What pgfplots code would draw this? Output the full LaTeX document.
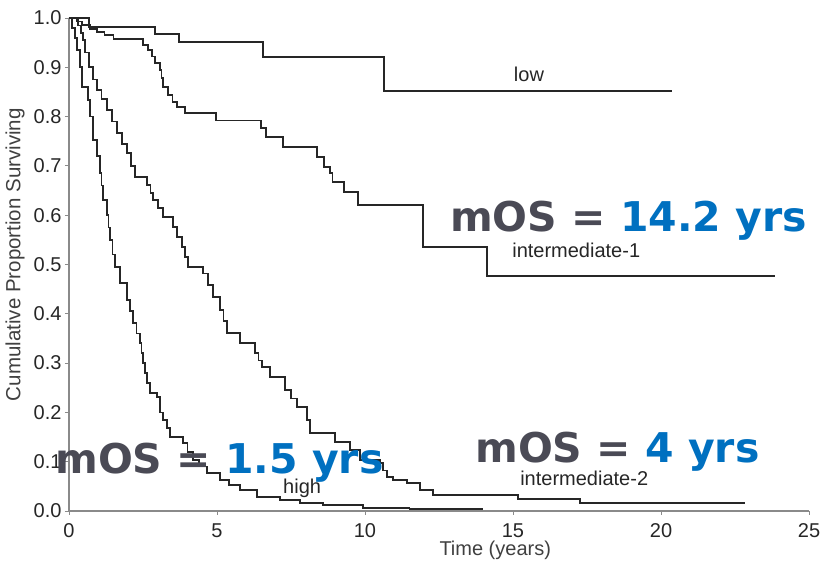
\documentclass[border=0pt]{standalone}
\usepackage{pgfplots}
\pgfplotsset{compat=1.18}
\usepackage{pgfplotstable}
\usepackage{fontspec}
\setmainfont{Liberation Sans}
\newfontfamily\bigfont{DejaVu Sans}
\definecolor{mosgrey}{HTML}{4A4A55}
\definecolor{mosblue}{HTML}{0070C0}
\definecolor{axgrey}{HTML}{8A8A8A}

\pgfplotstableread{
t S
0 1
0.68 0.982
2.9 0.968
3.72 0.952
6.55 0.921
10.64 0.852
20.37 0.852
}\low

\pgfplotstableread{
t S
0 1
0.25 0.993
0.45 0.986
0.7 0.978
0.95 0.972
1.2 0.965
1.5 0.957
2.5 0.945
2.67 0.935
2.8 0.922
2.9 0.909
3.07 0.895
3.12 0.878
3.18 0.86
3.34 0.844
3.5 0.83
3.65 0.819
3.92 0.807
4.97 0.792
6.49 0.777
6.66 0.759
7.23 0.739
8.38 0.718
8.61 0.698
8.82 0.686
8.9 0.667
9.29 0.647
9.76 0.621
11.96 0.536
14.12 0.477
23.85 0.477
}\intone

\pgfplotstableread{
t S
0 1
0.3 0.985
0.4 0.97
0.47 0.955
0.55 0.93
0.68 0.90
0.8 0.875
0.95 0.854
1.1 0.835
1.28 0.813
1.45 0.79
1.62 0.767
1.8 0.745
1.96 0.726
2.1 0.70
2.23 0.678
2.64 0.661
2.75 0.645
2.84 0.631
3.0 0.615
3.18 0.597
3.51 0.576
3.65 0.556
3.82 0.536
3.92 0.515
4.02 0.495
4.53 0.482
4.7 0.458
4.86 0.434
5.1 0.408
5.22 0.385
5.34 0.361
5.78 0.341
6.28 0.32
6.4 0.305
6.52 0.292
6.79 0.272
7.3 0.245
7.5 0.228
7.7 0.211
8.04 0.185
8.14 0.158
8.99 0.14
9.49 0.124
9.83 0.103
10.5 0.097
10.6 0.082
10.74 0.069
10.95 0.063
11.42 0.057
11.86 0.043
12.3 0.032
15.17 0.024
17.26 0.016
22.84 0.016
}\inttwo

\pgfplotstableread{
t S
0 1
0.1 0.98
0.2 0.96
0.27 0.935
0.37 0.9
0.44 0.86
0.64 0.834
0.71 0.8
0.81 0.752
0.95 0.72
1.05 0.686
1.1 0.66
1.15 0.631
1.28 0.6
1.33 0.575
1.39 0.55
1.47 0.52
1.55 0.495
1.72 0.462
1.96 0.428
2.06 0.405
2.16 0.381
2.28 0.36
2.4 0.341
2.45 0.32
2.5 0.3
2.57 0.28
2.64 0.26
2.74 0.239
2.97 0.231
3.07 0.2
3.18 0.185
3.3 0.168
3.41 0.15
3.85 0.138
4.0 0.12
4.19 0.103
4.4 0.09
4.66 0.077
5.1 0.063
5.4 0.053
5.78 0.043
6.35 0.028
7.13 0.022
7.8 0.016
8.58 0.012
9.93 0.006
11.5 0.004
14.0 0.004
}\high

\begin{document}
\begin{tikzpicture}
\begin{axis}[
  scale only axis,
  width=740pt, height=493pt,
  xmin=0, xmax=25, ymin=0, ymax=1,
  axis lines=left,
  axis line style={-, draw=axgrey, line width=1.3pt},
  xtick={0,5,10,15,20,25},
  ytick={0,0.1,0.2,0.3,0.4,0.5,0.6,0.7,0.8,0.9,1.0},
  tick align=outside,
  major tick length=4pt,
  tick style={draw=axgrey, line width=0.8pt},
  /pgf/number format/assume math mode=true,
  tick label style={font=\fontsize{20}{24}\selectfont, text=black!85},
  y tick label style={/pgf/number format/.cd, fixed, fixed zerofill, precision=1},
  x tick label style={yshift=-5pt},
  xlabel={Time (years)},
  ylabel={Cumulative Proportion Surviving},
  label style={font=\fontsize{20}{24}\selectfont, text=black!75},
  xlabel style={at={(axis description cs:0.576,-0.08)}, anchor=center},
  ylabel style={at={(axis description cs:-0.073,0.52)}, anchor=center, font=\fontsize{20.5}{25}\selectfont},
  clip=false,
]
\addplot[const plot, line width=1.7pt, black!85, line join=miter] table[x=t,y=S] {\low};
\addplot[const plot, line width=1.7pt, black!85, line join=miter] table[x=t,y=S] {\intone};
\addplot[const plot, line width=1.7pt, black!85, line join=miter] table[x=t,y=S] {\inttwo};
\addplot[const plot, line width=1.7pt, black!85, line join=miter] table[x=t,y=S] {\high};

\node[anchor=base, font=\fontsize{20}{24}\selectfont, text=black!85, inner sep=0pt] at (axis cs:15.54,0.872) {low};
\node[anchor=base west, font=\fontsize{20}{24}\selectfont, text=black!85, inner sep=0pt] at (axis cs:14.97,0.515) {intermediate-1};
\node[anchor=base west, font=\fontsize{20}{24}\selectfont, text=black!85, inner sep=0pt] at (axis cs:15.24,0.051) {intermediate-2};
\node[anchor=base west, font=\fontsize{20}{24}\selectfont, text=black!85, inner sep=0pt] at (axis cs:7.23,0.036) {high};

\coordinate (bl) at (rel axis cs:0,0);
\coordinate (m1) at (axis cs:12.87,0.566);
\coordinate (m2) at (axis cs:-0.47,0.077);
\coordinate (m3) at (axis cs:13.72,0.099);
\end{axis}
\node[anchor=base west, inner sep=0pt, font=\bigfont\bfseries\fontsize{41}{48}\selectfont] at (m1) {\textcolor{mosgrey}{mOS =} \textcolor{mosblue}{14.2 yrs}};
\node[anchor=base west, inner sep=0pt, font=\bigfont\bfseries\fontsize{41}{48}\selectfont] at (m2) {\textcolor{mosgrey}{mOS =} \textcolor{mosblue}{1.5 yrs}};
\node[anchor=base west, inner sep=0pt, font=\bigfont\bfseries\fontsize{41}{48}\selectfont] at (m3) {\textcolor{mosgrey}{mOS =} \textcolor{mosblue}{4 yrs}};
\pgfresetboundingbox
\path (bl) ++(-69pt,-53pt) rectangle ++(822pt,564pt);
\end{tikzpicture}
\end{document}
